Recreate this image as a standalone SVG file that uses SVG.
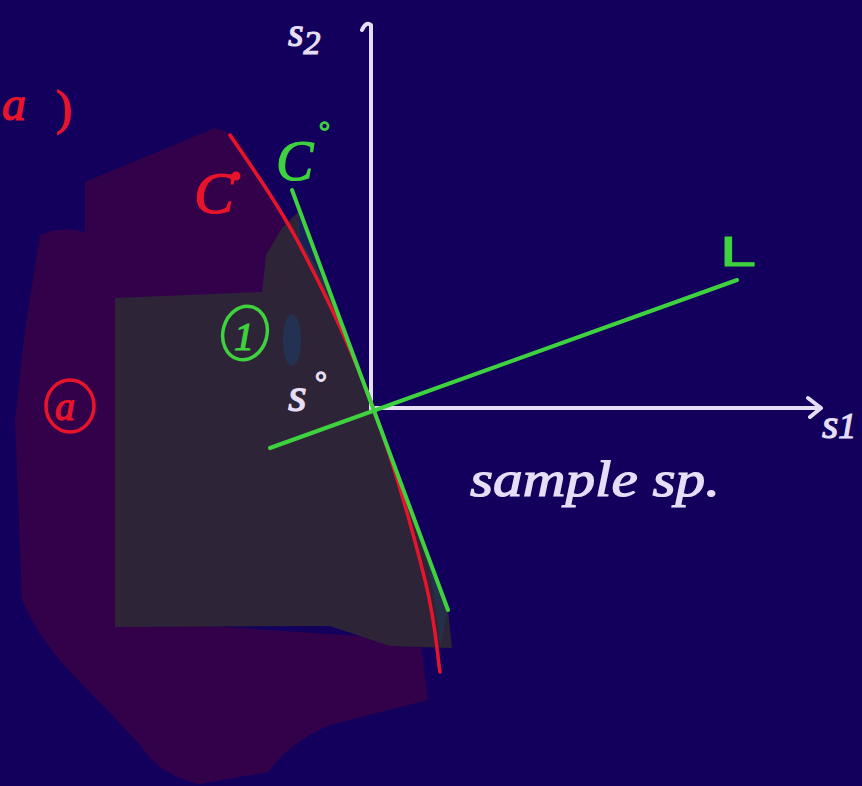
<svg xmlns="http://www.w3.org/2000/svg" width="862" height="786" viewBox="0 0 862 786">
<style>
.hw{font-family:"Liberation Serif","DejaVu Serif",serif;font-style:italic;stroke-width:1.2}
.wt{fill:#e6def6;stroke:#e6def6}
.gr{fill:#3fd23f;stroke:#3fd23f}
.rd{fill:#e8142c;stroke:#e8142c}
.ax{stroke:#e6def6;stroke-width:4;fill:none;stroke-linecap:round;stroke-linejoin:round}
.gl{stroke:#3fd23f;stroke-width:4;fill:none;stroke-linecap:round}
.rl{stroke:#e8142c;stroke-width:3.5;fill:none;stroke-linecap:round}
</style>
<rect width="862" height="786" fill="#13005c"/>
<g id="regions">
<path d="M85,182 L215,128 L235,135 L300,240 L300,300 L120,300 L120,620 L420,640 L428,700 Q380,712 330,725 Q290,742 268,772 L200,784 Q160,776 140,745 Q110,712 80,682 Q40,642 22,600 L15,420 L25,330 L40,235 Q62,226 85,232 Z" fill="#33004a"/>
<path d="M115,298 L262,292 L266,255 L282,228 L298,212 L300,240 Q340,300 372,407 L448,610 L452,648 L390,646 L330,626 L115,627 Z" fill="#2e2438"/>
<path d="M298,212 L372,407 L448,610 L440,648 Q432,560 414,520 Q394,464 373,407 Q352,350 321,285 Q305,250 298,240 Z" fill="#1c3a56" opacity="0.55"/>
<ellipse cx="292" cy="340" rx="9" ry="26" fill="#1c3a66" opacity="0.6"/>
</g>
<g id="connectors">
<path class="ax" d="M362,30 Q366,21 371,25 L371,410"/>
<path class="ax" d="M371,408 L820,408 M808,398 L821,408 L810,417"/>
<path class="rl" d="M230,135 C241,152 273,195 297,240 C321,285 352,350 373,407 C394,464 414,536 425,580 C436,624 437.5,657 440,672"/>
<path class="gl" d="M292,190 L448,610"/>
<path class="gl" d="M270,448 L737,280"/>
</g>
<g id="label-s2"><text class="hw wt" x="288" y="46" font-size="40">s<tspan dy="8" font-size="34">2</tspan></text></g>
<g id="label-s1"><text class="hw wt" x="822" y="438" font-size="42">s<tspan font-size="36">1</tspan></text></g>
<g id="label-red-a"><text class="hw rd" x="2" y="120" font-size="48">a<tspan x="56" y="124" font-style="normal">)</tspan></text></g>
<g id="label-red-C"><text class="hw rd" x="194" y="213" font-size="60">C</text><circle cx="236" cy="176" r="4.5" fill="#e8142c"/></g>
<g id="label-green-C"><text class="hw gr" x="276" y="180" font-size="56">C</text><text class="hw gr" x="318" y="140" font-size="28" font-style="normal">°</text></g>
<g id="label-L"><text class="gr" x="720" y="266" font-family="Liberation Sans, Arial, sans-serif" font-size="42" textLength="36" lengthAdjust="spacingAndGlyphs" stroke-width="1">L</text></g>
<g id="label-1"><ellipse cx="245" cy="333" rx="22" ry="27" fill="none" stroke="#3fd23f" stroke-width="3.5" transform="rotate(15 245 333)"/><text class="hw gr" x="234" y="350" font-size="40">1</text></g>
<g id="label-a"><ellipse cx="70" cy="406" rx="24" ry="26" fill="none" stroke="#e8142c" stroke-width="3.5"/><text class="hw rd" x="55" y="420" font-size="40">a</text></g>
<g id="label-s0"><text class="hw wt" x="288" y="411" font-size="48">s</text><text class="hw wt" x="314" y="392" font-size="30" font-style="normal">°</text></g>
<g id="label-sample"><text class="hw wt" x="470" y="496" font-size="50" textLength="250" lengthAdjust="spacingAndGlyphs">sample sp.</text></g>
</svg>
